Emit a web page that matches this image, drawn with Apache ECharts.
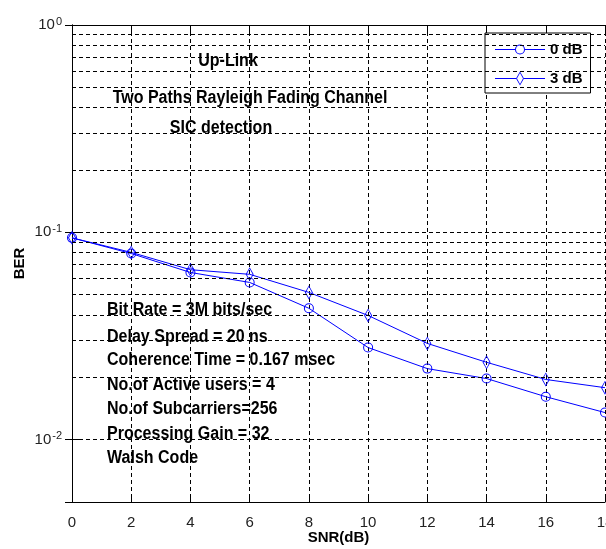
<!DOCTYPE html>
<html>
<head>
<meta charset="utf-8">
<script src="https://cdn.jsdelivr.net/npm/echarts@6/dist/echarts.min.js"></script>
<style>
  html, body { margin: 0; padding: 0; background: #fff; }
</style>
</head>
<body>
<div id="chart" style="width:606px;height:549px"></div>
<script>
  // data
  const snr = [0, 2, 4, 6, 8, 10, 12, 14, 16, 18];
  const ber0dB = [0.094, 0.079, 0.064, 0.0573, 0.043, 0.0278, 0.0220, 0.0197, 0.0161, 0.0135];
  const ber3dB = [0.094, 0.080, 0.066, 0.0627, 0.0513, 0.0397, 0.0291, 0.0236, 0.0195, 0.0178];
  const seriesNames = ['0 dB', '3 dB'];
  // minor log grid lines (2..9 per decade)
  const minorGrid = [0.006, 0.007, 0.008, 0.009,
    0.02, 0.03, 0.04, 0.05, 0.06, 0.07, 0.08, 0.09,
    0.2, 0.3, 0.4, 0.5, 0.6, 0.7, 0.8, 0.9];
  const topNotes = ['Up-Link', 'Two Paths Rayleigh Fading Channel', 'SIC detection'];
  const bottomNotes = ['Bit Rate = 3M bits/sec', 'Delay Spread = 20 ns', 'Coherence Time = 0.167 msec',
    'No.of Active users = 4', 'No.of Subcarriers=256', 'Processing Gain = 32', 'Walsh Code'];

  const sans = "'Liberation Sans', Arial, sans-serif";
  const blue = '#0000ff';
  const dash = { color: '#000', width: 1, type: [4, 3] };

  // hollow markers drawn as rings so the line shows through
  const ringCircle = 'path://M0,-5A5,5 0 1,1 0,5A5,5 0 1,1 0,-5ZM0,-4A4,4 0 1,0 0,4A4,4 0 1,0 0,-4Z';
  const ringDiamond = 'path://M0,-7L4,0L0,7L-4,0ZM0,-5.6L-3,0L0,5.6L3,0Z';
  const legCircle = 'path://M-25,-0.5L-5,-0.5L-5,0.5L-25,0.5ZM5,-0.5L25,-0.5L25,0.5L5,0.5Z' +
    'M0,-5A5,5 0 1,1 0,5A5,5 0 1,1 0,-5ZM0,-4A4,4 0 1,0 0,4A4,4 0 1,0 0,-4Z';
  const legDiamond = 'path://M-25,-0.5L-4,-0.5L-4,0.5L-25,0.5ZM4,-0.5L25,-0.5L25,0.5L4,0.5Z' +
    'M0,-7L4,0L0,7L-4,0ZM0,-5.6L-3,0L0,5.6L3,0Z';

  // narrow bold notes: Liberation Sans squeezed horizontally
  const textEls = [];
  const topX = [228, 250, 221];
  const topY = [61, 98, 128];
  topNotes.forEach((t, i) => {
    textEls.push({ type: 'text', z: -10, x: topX[i], y: topY[i], scaleX: 0.89,
      style: { text: t, x: 0, y: 0, align: 'center', verticalAlign: 'middle',
        font: 'bold 18px ' + sans, fill: '#000' } });
  });
  const botY = [310, 337, 360, 385, 409, 434, 458];
  bottomNotes.forEach((t, i) => {
    textEls.push({ type: 'text', z: -10, x: 107, y: botY[i], scaleX: 0.89,
      style: { text: t, x: 0, y: 0, align: 'left', verticalAlign: 'middle',
        font: 'bold 18px ' + sans, fill: '#000' } });
  });

  const chart = echarts.init(document.getElementById('chart'));
  chart.setOption({
    animation: false,
    backgroundColor: '#fff',
    grid: { left: 72, right: 1, top: 25, bottom: 47, containLabel: false, outerBoundsMode: 'none' },
    legend: {
      orient: 'vertical',
      left: 485, top: 33,
      padding: [9, 8, 7, 10],
      itemWidth: 50, itemHeight: 14, itemGap: 14,
      backgroundColor: '#fff',
      borderColor: '#000', borderWidth: 1,
      textStyle: { fontFamily: sans, fontWeight: 'bold', fontSize: 15, color: '#000' },
      data: [
        { name: seriesNames[0], icon: legCircle },
        { name: seriesNames[1], icon: legDiamond }
      ]
    },
    graphic: textEls,
    xAxis: [
      {
        type: 'value', min: 0, max: 18, interval: 2,
        name: 'SNR(dB)', nameLocation: 'middle', nameGap: 28, nameMoveOverlap: false,
        nameTextStyle: { fontFamily: sans, fontWeight: 'bold', fontSize: 15, color: '#000' },
        axisLine: { lineStyle: { color: '#000', width: 1 } },
        axisTick: { inside: true, length: 7, lineStyle: { color: '#000' } },
        axisLabel: { margin: 13, fontFamily: sans, fontSize: 15, color: '#222' },
        splitLine: { show: true, lineStyle: dash }
      },
      {
        type: 'value', min: 0, max: 18, interval: 2, position: 'top',
        axisLine: { show: true, lineStyle: { color: '#000', width: 1 } },
        axisTick: { show: true, inside: true, length: 7, lineStyle: { color: '#000' } },
        axisLabel: { show: false },
        splitLine: { show: false }
      }
    ],
    yAxis: [
      {
        type: 'log', logBase: 10, min: 0.005, max: 1,
        name: 'BER', nameLocation: 'middle', nameGap: 45, nameMoveOverlap: false,
        nameTextStyle: { fontFamily: sans, fontWeight: 'bold', fontSize: 15, color: '#000' },
        axisLine: { show: true, lineStyle: { color: '#000', width: 1 } },
        axisTick: { show: true, inside: true, length: 7, lineStyle: { color: '#000' } },
        axisLabel: {
          margin: 10,
          formatter: function (v) {
            const e = Math.log10(v);
            if (Math.abs(e - Math.round(e)) > 1e-6) return '';
            return '{b|10}{s|' + Math.round(e) + '}';
          },
          rich: {
            b: { fontFamily: sans, fontSize: 15, color: '#222', lineHeight: 18 },
            s: { fontFamily: sans, fontSize: 11, color: '#222', verticalAlign: 'top', padding: [0, 0, 6, 1] }
          }
        },
        splitLine: { show: true, lineStyle: dash }
      },
      {
        type: 'log', logBase: 10, min: 0.005, max: 1, position: 'right',
        axisLine: { show: true, lineStyle: { color: '#000', width: 1 } },
        axisTick: { show: true, inside: true, length: 7, lineStyle: { color: '#000' } },
        axisLabel: { show: false },
        splitLine: { show: false }
      }
    ],
    series: [
      {
        name: seriesNames[0], type: 'line',
        data: snr.map((x, i) => [x, ber0dB[i]]),
        symbol: ringCircle, symbolSize: 10,
        itemStyle: { color: blue },
        lineStyle: { color: blue, width: 1 },
        markLine: {
          silent: true, symbol: 'none', label: { show: false },
          lineStyle: dash,
          data: minorGrid.map(v => ({ yAxis: v }))
        },
        z: 3
      },
      {
        name: seriesNames[1], type: 'line',
        data: snr.map((x, i) => [x, ber3dB[i]]),
        symbol: ringDiamond, symbolSize: [8, 14],
        itemStyle: { color: blue },
        lineStyle: { color: blue, width: 1 },
        z: 3
      }
    ]
  });
</script>
</body>
</html>
